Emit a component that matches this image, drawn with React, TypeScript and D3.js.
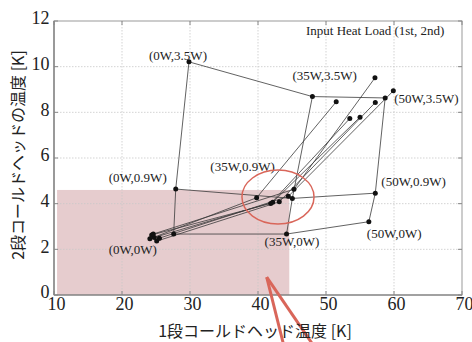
import React from 'react';
import * as d3 from 'd3';

const W = 472;
const H = 342;

// grid operating points: [1st-stage load, 2nd-stage load, T1, T2]
const loads1 = ['0W', '35W', '50W'];
const loads2 = ['0W', '0.9W', '3.5W'];
// T1 values (rows = load2 index, cols = load1 index)
const gridT1 = [
  [27.6, 44.2, 56.3],
  [27.9, 45.05, 57.25],
  [29.85, 48.0, 58.7],
];
const gridT2 = [
  [2.67, 2.67, 3.21],
  [4.64, 4.23, 4.46],
  [10.21, 8.69, 8.63],
];

// other measured trajectories: start -> middle -> end
const trajStartT1 = [24.1, 24.37, 24.75, 25.1, 25.5, 24.6];
const trajStartT2 = [2.46, 2.63, 2.52, 2.36, 2.49, 2.67];
const trajMidT1 = [39.8, 41.87, 42.16, 43.13, 44.46, 45.29];
const trajMidT2 = [4.26, 4.01, 4.06, 4.08, 4.32, 4.63];
const trajEndT1 = [51.5, 53.5, 55.0, 57.25, 59.9, 57.2];
const trajEndT2 = [8.46, 7.73, 7.79, 8.43, 8.94, 9.51];

const xTicks = [10, 20, 30, 40, 50, 60, 70];
const yTicks = [0, 2, 4, 6, 8, 10, 12];

// highlighted region and annotation
const highlightX = [10.45, 44.6];
const highlightY = [0, 4.6];
const ellipseCenter = [42.94, 4.29];
const ellipseRadius = [5.3, 1.18];
const arrowFrom = [41.28, 0.78];
const arrowTo1 = [43.7, -2.1];
const arrowTo2 = [47.9, -2.1];

// label offsets (px) for grid point labels [row][col]
const labelOffsets = [
  [[-65, 20], [-22, 12], [-2, 16]],
  [[-67, -7], [-82, -27], [6, -7]],
  [[-40, -2], [-20, -17], [9, 5]],
];

export default function App() {
  const m = { left: 54, right: 462, top: 21, bottom: 295 };
  const x = d3.scaleLinear().domain([10, 70]).range([m.left, m.right]);
  const y = d3.scaleLinear().domain([0, 12]).range([m.bottom, m.top]);
  const line = d3.line<[number, number]>().x(d => x(d[0])).y(d => y(d[1]));

  const rows = gridT1.map((r, i) => r.map((v, j) => [v, gridT2[i][j]] as [number, number]));
  const cols = loads1.map((_, j) => rows.map(r => r[j]));
  const trajs = trajStartT1.map((_, i) => [
    [trajStartT1[i], trajStartT2[i]],
    [trajMidT1[i], trajMidT2[i]],
    [trajEndT1[i], trajEndT2[i]],
  ] as [number, number][]);

  const serif = '"Liberation Serif", "Times New Roman", serif';
  const cjk = '"Noto Sans CJK JP", sans-serif';
  const lineColor = '#3a3a3a';
  const red = '#d9665a';

  return (
    <svg width={W} height={H} style={{ position: 'absolute', left: 0, top: 0, background: '#fff' }}>
      <rect
        x={x(highlightX[0])}
        y={y(highlightY[1])}
        width={x(highlightX[1]) - x(highlightX[0])}
        height={y(highlightY[0]) - y(highlightY[1])}
        fill="rgba(190,120,125,0.38)"
      />
      {/* grid */}
      {xTicks.slice(1, -1).map(t => (
        <line key={'gx' + t} x1={x(t)} x2={x(t)} y1={m.top} y2={m.bottom} stroke="#c8c8c8" strokeWidth={0.8} strokeDasharray="1.5,1.5" />
      ))}
      {yTicks.slice(1, -1).map(t => (
        <line key={'gy' + t} x1={m.left} x2={m.right} y1={y(t)} y2={y(t)} stroke="#c8c8c8" strokeWidth={0.8} strokeDasharray="1.5,1.5" />
      ))}
      {/* frame */}
      <rect x={m.left} y={m.top} width={m.right - m.left} height={m.bottom - m.top} fill="none" stroke="#999" strokeWidth={1} />
      <line x1={m.left} x2={m.left} y1={m.top} y2={m.bottom} stroke="#777" strokeWidth={1.2} />
      <line x1={m.left} x2={m.right} y1={m.bottom} y2={m.bottom} stroke="#777" strokeWidth={1.2} />
      {xTicks.map(t => (
        <g key={'tx' + t}>
          <line x1={x(t)} x2={x(t)} y1={m.bottom} y2={m.bottom - 4} stroke="#888" />
          <line x1={x(t)} x2={x(t)} y1={m.top} y2={m.top + 4} stroke="#888" />
          <text x={x(t) + 2.5} y={310} textAnchor="middle" fontFamily={serif} fontSize={18} fill="#222">{t}</text>
        </g>
      ))}
      {yTicks.map(t => (
        <g key={'ty' + t}>
          <line x1={m.left} x2={m.left + 4} y1={y(t)} y2={y(t)} stroke="#888" />
          <line x1={m.right} x2={m.right - 4} y1={y(t)} y2={y(t)} stroke="#888" />
          <text x={49.5} y={y(t) - 2.5} dy="0.33em" textAnchor="end" fontFamily={serif} fontSize={18} fill="#222">{t}</text>
        </g>
      ))}
      {/* trajectories */}
      {trajs.map((tr, i) => (
        <path key={'tr' + i} d={line(tr) || ''} fill="none" stroke={lineColor} strokeWidth={0.8} />
      ))}
      {rows.map((r, i) => (
        <path key={'row' + i} d={line(r) || ''} fill="none" stroke={lineColor} strokeWidth={0.8} />
      ))}
      {cols.map((c, i) => (
        <path key={'col' + i} d={line(c) || ''} fill="none" stroke={lineColor} strokeWidth={0.8} />
      ))}
      {trajs.flat().map((p, i) => (
        <circle key={'tp' + i} cx={x(p[0])} cy={y(p[1])} r={2.5} fill="#111" />
      ))}
      {rows.flat().map((p, i) => (
        <circle key={'gp' + i} cx={x(p[0])} cy={y(p[1])} r={2.5} fill="#111" />
      ))}
      {/* labels */}
      {rows.map((r, i) => r.map((p, j) => (
        <text key={'lb' + i + j} x={x(p[0]) + labelOffsets[i][j][0]} y={y(p[1]) + labelOffsets[i][j][1]}
          fontFamily={serif} fontSize={13} fill="#222">{`(${loads1[j]},${loads2[i]})`}</text>
      )))}
      <text x={306} y={35} fontFamily={serif} fontSize={13} fill="#222">Input Heat Load (1st, 2nd)</text>
      {/* annotations */}
      <ellipse cx={x(ellipseCenter[0])} cy={y(ellipseCenter[1])}
        rx={x(ellipseCenter[0] + ellipseRadius[0]) - x(ellipseCenter[0])}
        ry={y(ellipseCenter[1] - ellipseRadius[1]) - y(ellipseCenter[1])}
        fill="none" stroke={red} strokeWidth={1.5} />
      <line x1={x(arrowFrom[0])} y1={y(arrowFrom[1])} x2={x(arrowTo1[0])} y2={y(arrowTo1[1])} stroke={red} strokeWidth={3} />
      <line x1={x(arrowFrom[0])} y1={y(arrowFrom[1])} x2={x(arrowTo2[0])} y2={y(arrowTo2[1])} stroke={red} strokeWidth={3} />
      {/* axis titles */}
      <text x={255} y={337} textAnchor="middle" fontFamily={cjk} fontSize={16} fill="#222">1段コールドヘッド温度 [K]</text>
      <text transform="translate(24,155) rotate(-90)" textAnchor="middle" fontFamily={cjk} fontSize={16} fill="#222">2段コールドヘッドの温度 [K]</text>
    </svg>
  );
}
